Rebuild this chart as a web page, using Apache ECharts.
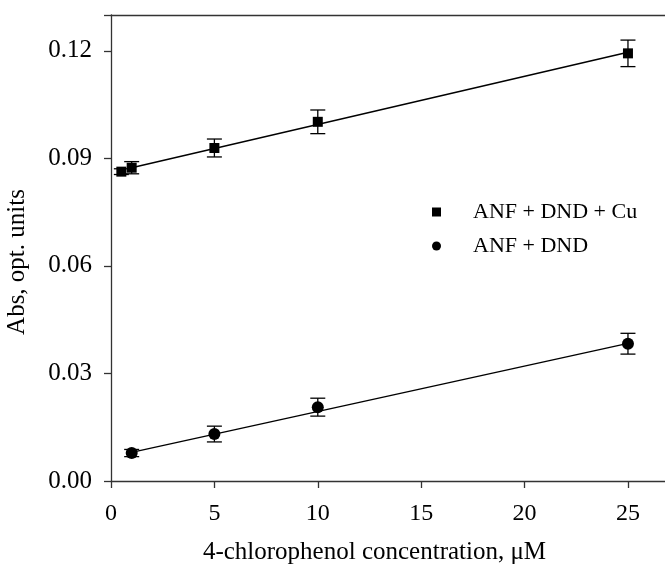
<!DOCTYPE html>
<html>
<head>
<meta charset="utf-8">
<script src="https://cdn.jsdelivr.net/npm/echarts@6/dist/echarts.min.js"></script>
<style>
  html, body { margin: 0; padding: 0; background: #fff; }
  #chart { width: 665px; height: 564px; }
</style>
</head>
<body>
<div id="chart"></div>
<script>
// ANF + DND + Cu
const cuX = [0.5, 1, 5, 10, 25];
const cuY = [0.0863, 0.0874, 0.0929, 0.1002, 0.1193];
const cuErr = [0.0008, 0.0017, 0.0025, 0.0033, 0.0037];
// ANF + DND
const dndX = [1, 5, 10, 25];
const dndY = [0.0078, 0.0131, 0.0206, 0.0383];
const dndErr = [0.0010, 0.0022, 0.0025, 0.0029];
// fitted lines (end points)
const cuFit = [[1, 0.0874], [25, 0.1196]];
const dndFit = [[1, 0.0080], [25, 0.0384]];

const font = 'Liberation Serif';
const ink = '#000';

const toPoints = (xs, ys) => xs.map((x, i) => [x, ys[i]]);
const toBars = (xs, ys, es) => xs.map((x, i) => [x, ys[i] - es[i], ys[i] + es[i]]);

// error bar with caps
function renderErr(params, api) {
  const x = api.value(0);
  const lo = api.coord([x, api.value(1)]);
  const hi = api.coord([x, api.value(2)]);
  const w = 7.5;
  const style = { stroke: ink, lineWidth: 1.3 };
  return {
    type: 'group',
    children: [
      { type: 'line', shape: { x1: lo[0], y1: lo[1], x2: hi[0], y2: hi[1] }, style },
      { type: 'line', shape: { x1: hi[0] - w, y1: hi[1], x2: hi[0] + w, y2: hi[1] }, style },
      { type: 'line', shape: { x1: lo[0] - w, y1: lo[1], x2: lo[0] + w, y2: lo[1] }, style }
    ]
  };
}

const chart = echarts.init(document.getElementById('chart'));

chart.setOption({
  animation: false,
  backgroundColor: '#fff',
  // plot runs past the right edge, like the cropped original
  grid: { left: 111, top: 15, width: 579, bottom: 83, outerBoundsMode: 'none', containLabel: false },
  legend: {
    orient: 'vertical',
    left: 427,
    top: 196,
    itemWidth: 9,
    itemHeight: 9,
    itemGap: 12,
    data: [
      { name: 'ANF + DND + Cu', icon: 'rect' },
      { name: 'ANF + DND', icon: 'circle' }
    ],
    textStyle: { fontFamily: font, fontSize: 22, color: ink, padding: [0, 0, 0, 27] }
  },
  xAxis: [
    {
      type: 'value',
      min: 0,
      max: 28,
      interval: 5,
      splitLine: { show: false },
      axisLine: { lineStyle: { color: '#333', width: 1.3 } },
      axisTick: { length: 7, lineStyle: { color: '#333', width: 1.3 } },
      axisLabel: {
        margin: 21,
        fontFamily: font,
        fontSize: 24,
        color: ink,
        formatter: v => (v % 5 === 0 ? String(v) : '')
      },
      name: '4-chlorophenol concentration, μM',
      nameLocation: 'middle',
      nameGap: 59,
      nameTextStyle: { fontFamily: font, fontSize: 25, color: ink, padding: [0, 52, 0, 0] }
    },
    {
      type: 'value',
      position: 'top',
      min: 0,
      max: 28,
      axisLine: { lineStyle: { color: '#333', width: 1.3 } },
      axisTick: { show: false },
      axisLabel: { show: false },
      splitLine: { show: false }
    }
  ],
  yAxis: {
    type: 'value',
    min: 0,
    max: 0.13,
    interval: 0.03,
    splitLine: { show: false },
    axisLine: { show: true, lineStyle: { color: '#333', width: 1.3 } },
    axisTick: { show: true, length: 7, lineStyle: { color: '#333', width: 1.3 } },
    axisLabel: {
      margin: 19,
      fontFamily: font,
      fontSize: 25,
      color: ink,
      formatter: v => {
        const k = v / 0.03;
        return Math.abs(k - Math.round(k)) < 1e-6 ? v.toFixed(2) : '';
      }
    },
    name: 'Abs, opt. units',
    nameLocation: 'middle',
    nameGap: 81,
    nameTextStyle: { fontFamily: font, fontSize: 25, color: ink, padding: [0, 28, 0, 0] }
  },
  series: [
    {
      type: 'line',
      data: cuFit,
      symbol: 'none',
      silent: true,
      lineStyle: { color: ink, width: 1.4 }
    },
    {
      type: 'line',
      data: dndFit,
      symbol: 'none',
      silent: true,
      lineStyle: { color: ink, width: 1.4 }
    },
    {
      type: 'custom',
      data: toBars(cuX, cuY, cuErr),
      renderItem: renderErr,
      encode: { x: 0, y: [1, 2] },
      z: 3
    },
    {
      type: 'custom',
      data: toBars(dndX, dndY, dndErr),
      renderItem: renderErr,
      encode: { x: 0, y: [1, 2] },
      z: 3
    },
    {
      name: 'ANF + DND + Cu',
      type: 'scatter',
      data: toPoints(cuX, cuY),
      symbol: 'rect',
      symbolSize: 10,
      itemStyle: { color: ink, opacity: 1 },
      z: 4
    },
    {
      name: 'ANF + DND',
      type: 'scatter',
      data: toPoints(dndX, dndY),
      symbol: 'circle',
      symbolSize: 12,
      itemStyle: { color: ink, opacity: 1 },
      z: 4
    }
  ]
});
</script>
</body>
</html>
